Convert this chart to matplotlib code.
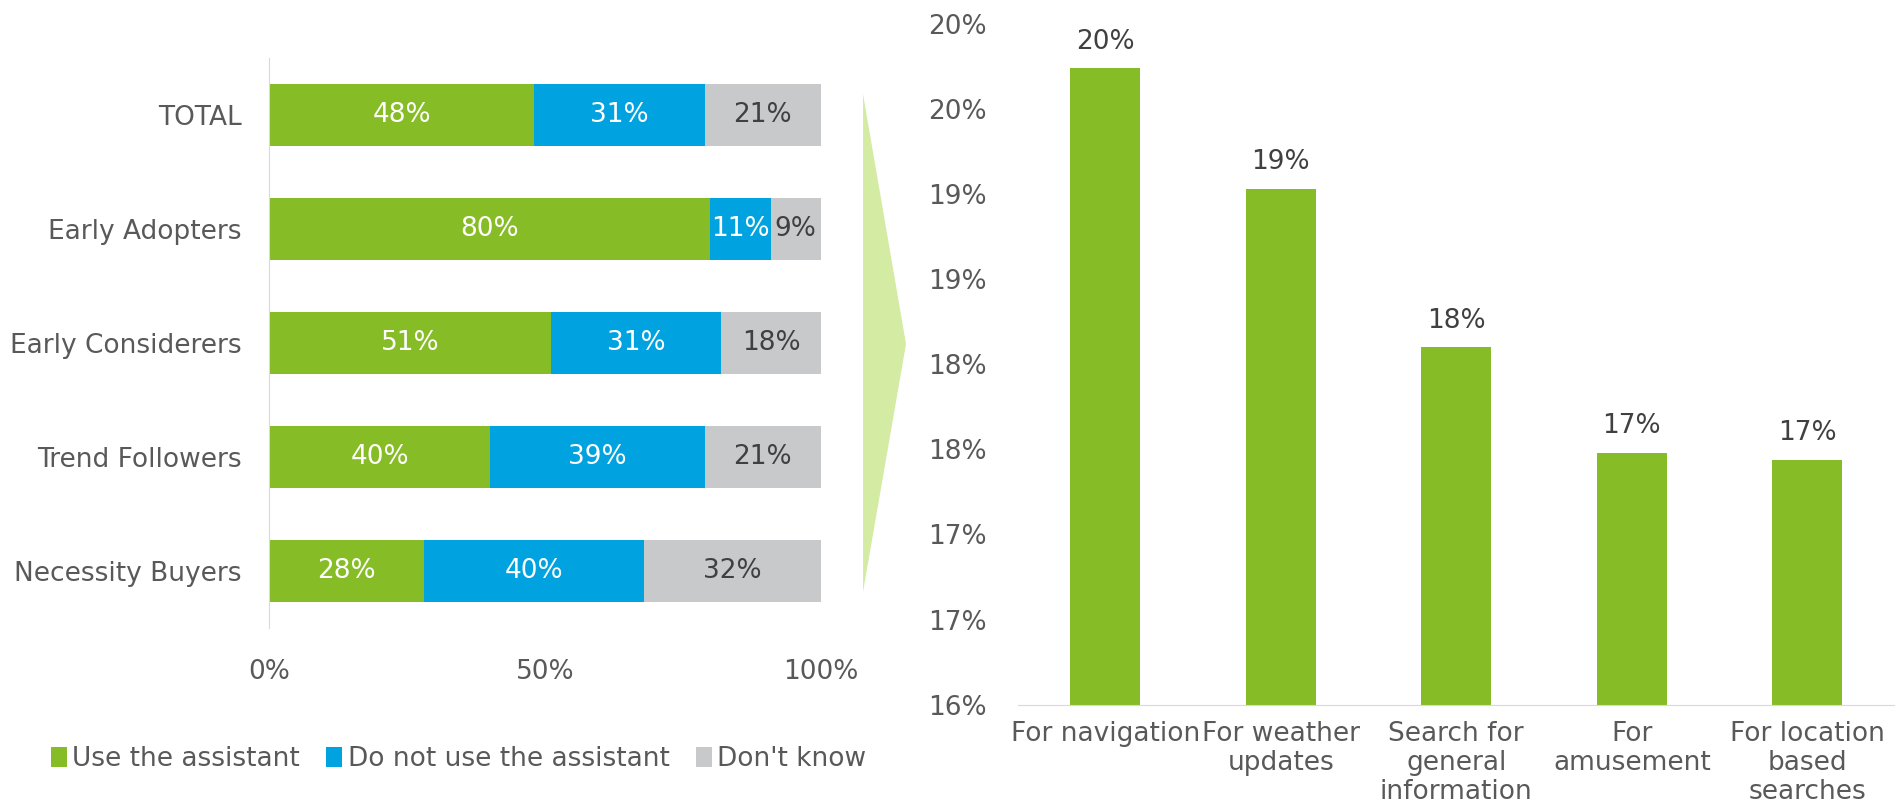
import math
import matplotlib
matplotlib.use('Agg')
import matplotlib.pyplot as plt
from matplotlib.patches import Polygon
from matplotlib.ticker import FuncFormatter

# left chart data
segments = ['TOTAL', 'Early Adopters', 'Early Considerers', 'Trend Followers', 'Necessity Buyers']
use_assistant = [48, 80, 51, 40, 28]
not_use = [31, 11, 31, 39, 40]
dont_know = [21, 9, 18, 21, 32]
series_names = ['Use the assistant', 'Do not use the assistant', "Don't know"]

# right chart data
uses = ['For navigation', 'For weather\nupdates', 'Search for\ngeneral\ninformation', 'For\namusement', 'For location\nbased\nsearches']
use_share = [19.74, 19.03, 18.10, 17.48, 17.44]

GREEN = '#86bc25'
BLUE = '#00a3e0'
GREY = '#c8c9cb'
TXT = '#595959'
FS = 19

plt.rcParams['font.family'] = ['DejaVu Sans']


def xl_round(v):
    # excel style rounding, half goes up
    return int(math.floor(v + 0.5))


fig = plt.figure(figsize=(18.95, 8.06), dpi=100)

# ---- stacked bars
ax1 = fig.add_axes((0.1422, 0.2208, 0.2908, 0.7072))
y = range(len(segments))
h = 0.55
left = [0] * len(segments)
for vals, col, name, tcol in zip([use_assistant, not_use, dont_know],
                                 [GREEN, BLUE, GREY], series_names,
                                 ['white', 'white', '#404040']):
    bars = ax1.barh(y, vals, height=h, left=left, color=col, label=name)
    for b, v in zip(bars, vals):
        ax1.text(b.get_x() + b.get_width() / 2, b.get_y() + h / 2, f'{v}%',
                 ha='center', va='center', color=tcol, fontsize=FS)
    left = [l + v for l, v in zip(left, vals)]

ax1.set_ylim(4.5, -0.5)
ax1.set_xlim(0, 100)
ax1.set_yticks(list(y))
ax1.set_yticklabels(segments)
ax1.set_xticks([0, 50, 100])
ax1.xaxis.set_major_formatter(FuncFormatter(lambda v, p: f'{int(v)}%'))
ax1.tick_params(length=0, labelsize=FS, colors=TXT)
ax1.tick_params(axis='y', pad=20)
ax1.tick_params(axis='x', pad=22)
for s in ['top', 'right', 'bottom']:
    ax1.spines[s].set_visible(False)
ax1.spines['left'].set_color('#d9d9d9')

leg = fig.legend(loc='center', bbox_to_anchor=(0.242, 0.058), ncol=3, frameon=False,
                 fontsize=FS, handlelength=0.6, handleheight=0.8, handletextpad=0.2,
                 columnspacing=1.0)
for t in leg.get_texts():
    t.set_color(TXT)

# arrow between charts
fig.patches.append(Polygon([(863 / 1895, 1 - 94 / 806), (906 / 1895, 1 - 344 / 806),
                            (863 / 1895, 1 - 592 / 806)], closed=True,
                           transform=fig.transFigure, facecolor='#d3eba3',
                           edgecolor='none'))

# ---- column chart
ax2 = fig.add_axes((0.537, 0.1258, 0.463, 0.8444))
x = range(len(uses))
bars2 = ax2.bar(x, use_share, width=0.4, color=GREEN)
for b, v in zip(bars2, use_share):
    ax2.text(b.get_x() + b.get_width() / 2, v + 0.08, f'{xl_round(v)}%',
             ha='center', va='bottom', color='#404040', fontsize=FS, clip_on=False)
ax2.set_ylim(16, 20)
ax2.set_xlim(-0.5, len(uses) - 0.5)
ax2.set_yticks([16 + 0.5 * i for i in range(9)])
ax2.yaxis.set_major_formatter(FuncFormatter(lambda v, p: f'{xl_round(v)}%'))
ax2.set_xticks(list(x))
ax2.set_xticklabels(uses, linespacing=1.15)
ax2.tick_params(length=0, labelsize=FS, colors=TXT)
ax2.tick_params(axis='y', pad=22)
ax2.tick_params(axis='x', pad=12)
for s in ['top', 'right', 'left']:
    ax2.spines[s].set_visible(False)
ax2.spines['bottom'].set_color('#d9d9d9')

fig.savefig('out.png', dpi=100)
